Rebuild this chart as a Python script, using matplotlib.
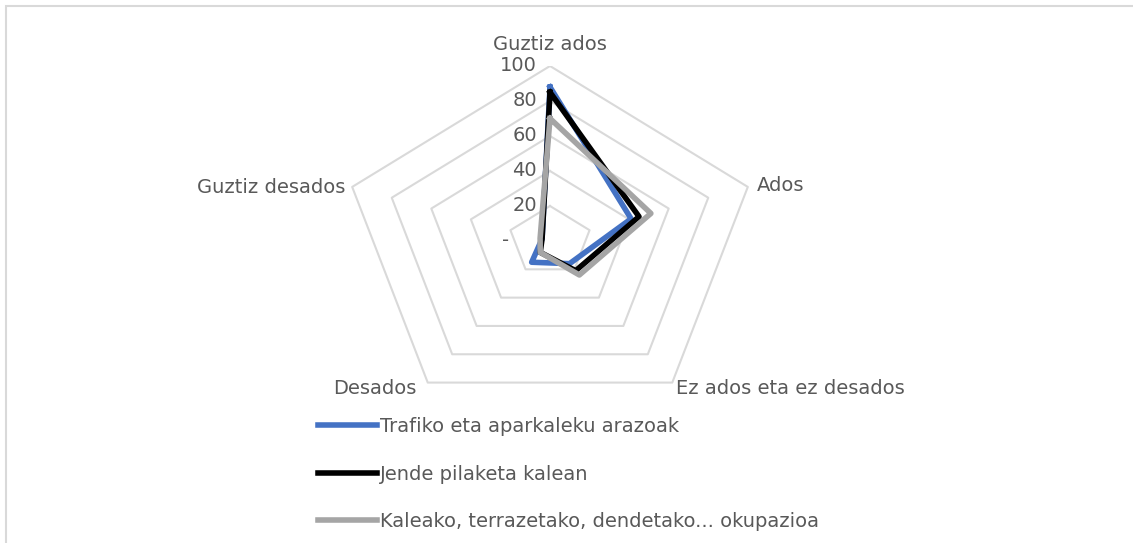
import matplotlib.pyplot as plt
import numpy as np
from matplotlib.patches import Rectangle
from matplotlib.lines import Line2D

# data
categories = ["Guztiz ados", "Ados", "Ez ados eta ez desados", "Desados", "Guztiz desados"]
series_names = ["Trafiko eta aparkaleku arazoak",
                "Jende pilaketa kalean",
                "Kaleako, terrazetako, dendetako... okupazioa"]
trafiko = [88, 41, 16, 15, 4]
jende = [85, 45, 21, 8, 4]
kaleako = [70, 51, 24, 8, 5]
ticks = [0, 20, 40, 60, 80, 100]
tick_labels = ["-", "20", "40", "60", "80", "100"]

colors = ["#4472C4", "#000000", "#A5A5A5"]
txt = "#595959"
grid_c = "#D9D9D9"
fs = 14
plt.rcParams['font.family'] = ['DejaVu Sans']

W, H = 1133, 543
fig = plt.figure(figsize=(W / 100, H / 100), dpi=100)

# chart frame (runs off the right and bottom edges)
fig.patches.append(Rectangle((6 / W, -0.1), 1.2, 1 - 6 / H + 0.1, transform=fig.transFigure,
                             fill=False, edgecolor=grid_c, lw=1.5))

# centre (550, 241) px, r=100 -> 208 px horizontally, 175 px vertically
ax = fig.add_axes([(550 - 208) / W, (H - 241 - 175) / H, 416 / W, 350 / H])
ax.set_xlim(-100, 100)
ax.set_ylim(-100, 100)
ax.axis('off')

n = len(categories)
ang = np.pi / 2 - 2 * np.pi * np.arange(n) / n
ca = np.append(np.cos(ang), np.cos(ang[0]))
sa = np.append(np.sin(ang), np.sin(ang[0]))

for lv in ticks[1:]:
    ax.plot(lv * ca, lv * sa, color=grid_c, lw=1.5, zorder=1)

for vals, c in zip([trafiko, jende, kaleako], colors):
    v = np.append(vals, vals[0])
    ax.plot(v * ca, v * sa, color=c, lw=4, solid_joinstyle='round', zorder=3)

# radial tick labels
for t, lab in zip(ticks, tick_labels):
    if lab == "-":
        ax.text(-21.6, t, lab, ha='center', va='center', fontsize=fs, color=txt)
    else:
        ax.text(-6.3, t, lab, ha='right', va='center', fontsize=fs, color=txt)

# category labels, offsets in px from the outer vertex
offs = [(0, 21, 'center'), (9, 1, 'left'), (4, -6, 'left'), (-11, -6, 'right'), (-7, -1, 'right')]
for cat, a, (dx, dy, ha) in zip(categories, ang, offs):
    ax.annotate(cat, (100 * np.cos(a), 100 * np.sin(a)), xytext=(dx * 0.72, dy * 0.72),
                textcoords='offset points', ha=ha, va='center', fontsize=fs, color=txt)

handles = [Line2D([], [], color=c, lw=4) for c in colors]
leg = fig.legend(handles, series_names, loc='upper left', bbox_to_anchor=(318 / W, 1 - 417 / H),
                 frameon=False, fontsize=fs, handlelength=3.05, handletextpad=0.12,
                 labelspacing=1.47, borderpad=0, borderaxespad=0)
for t in leg.get_texts():
    t.set_color(txt)

fig.savefig("out.png", dpi=100)
